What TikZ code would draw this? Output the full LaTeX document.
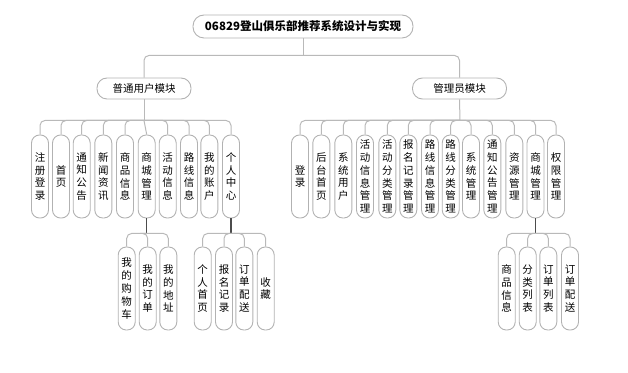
\documentclass[tikz,border=0pt]{standalone}
\usepackage{fontspec}
\setmainfont{Noto Sans CJK SC}
\usetikzlibrary{positioning,calc}

\begin{document}
\begin{tikzpicture}[x=1pt, y=1pt,
  topbox/.style={draw=gray!60, line width=0.9pt, rounded corners=11pt, minimum width=220pt, minimum height=23pt, inner sep=0pt, font={\fontsize{11.5}{14}\selectfont\bfseries}},
  modbox/.style={draw=gray!60, line width=0.9pt, rounded corners=10pt, minimum width=94pt, minimum height=21pt, inner sep=0pt, font={\fontsize{10.5}{13}\selectfont}},
  leaf/.style={draw=gray!60, line width=0.9pt, rounded corners=8pt, minimum width=17pt, minimum height=83pt, inner sep=0pt, align=center, font={\fontsize{10.5}{12.8}\selectfont}},
  link/.style={draw=gray!55, line width=1pt, rounded corners=5pt},
  sublink/.style={draw=black!70, line width=1.3pt}
]
\useasboundingbox (0,0) rectangle (628,372);

% top levels
\node[topbox] (root) at (303,345.5) {06829登山俱乐部推荐系统设计与实现};
\node[modbox] (user) at (144,283.5) {普通用户模块};
\node[modbox] (admin) at (459.5,283.5) {管理员模块};

% user leaves
\node[leaf] (u1) at (40,195.5) {注\\册\\登\\录};
\node[leaf] (u2) at (61,195.5) {首\\页};
\node[leaf] (u3) at (81.7,195.5) {通\\知\\公\\告};
\node[leaf] (u4) at (103.3,195.5) {新\\闻\\资\\讯};
\node[leaf] (u5) at (125,195.5) {商\\品\\信\\息};
\node[leaf] (u6) at (146.7,195.5) {商\\城\\管\\理};
\node[leaf] (u7) at (167.7,195.5) {活\\动\\信\\息};
\node[leaf] (u8) at (189,195.5) {路\\线\\信\\息};
\node[leaf] (u9) at (209.3,195.5) {我\\的\\账\\户};
\node[leaf] (u10) at (231,195.5) {个\\人\\中\\心};

% admin leaves
\node[leaf] (a1) at (300,195.5) {登\\录};
\node[leaf] (a2) at (321.3,195.5) {后\\台\\首\\页};
\node[leaf] (a3) at (343.3,195.5) {系\\统\\用\\户};
\node[leaf] (a4) at (365,195.5) {活\\动\\信\\息\\管\\理};
\node[leaf] (a5) at (387.3,195.5) {活\\动\\分\\类\\管\\理};
\node[leaf] (a6) at (408.3,195.5) {报\\名\\记\\录\\管\\理};
\node[leaf] (a7) at (430,195.5) {路\\线\\信\\息\\管\\理};
\node[leaf] (a8) at (450.7,195.5) {路\\线\\分\\类\\管\\理};
\node[leaf] (a9) at (471,195.5) {系\\统\\管\\理};
\node[leaf] (a10) at (492.3,195.5) {通\\知\\公\\告\\管\\理};
\node[leaf] (a11) at (514.3,195.5) {资\\源\\管\\理};
\node[leaf] (a12) at (535.5,195.5) {商\\城\\管\\理};
\node[leaf] (a13) at (556,195.5) {权\\限\\管\\理};

% third level
\node[leaf] (s1) at (126.7,83.5) {我\\的\\购\\物\\车};
\node[leaf] (s2) at (147.7,83.5) {我\\的\\订\\单};
\node[leaf] (s3) at (168.3,83.5) {我\\的\\地\\址};
\node[leaf] (p1) at (202.7,83.5) {个\\人\\首\\页};
\node[leaf] (p2) at (224,83.5) {报\\名\\记\\录};
\node[leaf] (p3) at (244.3,83.5) {订\\单\\配\\送};
\node[leaf] (p4) at (265.7,83.5) {收\\藏};
\node[leaf] (m1) at (506.7,83.5) {商\\品\\信\\息};
\node[leaf] (m2) at (527.7,83.5) {分\\类\\列\\表};
\node[leaf] (m3) at (548.3,83.5) {订\\单\\列\\表};
\node[leaf] (m4) at (570,83.5) {订\\单\\配\\送};

% bus points
\coordinate (rootbus) at ($(root.south)+(0,-17)$);
\coordinate (userbus) at ($(user.south)+(0,-21)$);
\coordinate (adminbus) at ($(admin.south)+(0.5,-21)$);
\coordinate (u6bus) at ($(u6.south)+(0,-15)$);
\coordinate (u10bus) at ($(u10.south)+(3,-15)$);
\coordinate (a12bus) at ($(a12.south)+(0,-15)$);

% connectors
\draw[link] (root.south) -- (rootbus);
\draw[link] (rootbus) -| (user.north);
\draw[link] (rootbus) -| (admin.north);

\draw[link] (user.south) -- (userbus);
\draw[link] (userbus) -| (u1.north);
\draw[link] (userbus) -| (u2.north);
\draw[link] (userbus) -| (u3.north);
\draw[link] (userbus) -| (u4.north);
\draw[link] (userbus) -| (u5.north);
\draw[link] (userbus) -- (u6.north);
\draw[link] (userbus) -| (u7.north);
\draw[link] (userbus) -| (u8.north);
\draw[link] (userbus) -| (u9.north);
\draw[link] (userbus) -| (u10.north);

\draw[link] (admin.south) -- (adminbus);
\draw[link] (adminbus) -| (a1.north);
\draw[link] (adminbus) -| (a2.north);
\draw[link] (adminbus) -| (a3.north);
\draw[link] (adminbus) -| (a4.north);
\draw[link] (adminbus) -| (a5.north);
\draw[link] (adminbus) -| (a6.north);
\draw[link] (adminbus) -| (a7.north);
\draw[link] (adminbus) -| (a8.north);
\draw[link] (adminbus) -| (a9.north);
\draw[link] (adminbus) -| (a10.north);
\draw[link] (adminbus) -| (a11.north);
\draw[link] (adminbus) -| (a12.north);
\draw[link] (adminbus) -| (a13.north);

\draw[sublink] (u6.south) -- (u6bus);
\draw[link] (u6bus) -| (s1.north);
\draw[link] (u6bus) -| (s2.north);
\draw[link] (u6bus) -| (s3.north);

\draw[sublink] (u10.south) -- (u10bus -| u10.south);
\draw[link] (u10bus) -| (p1.north);
\draw[link] (u10bus) -| (p2.north);
\draw[link] (u10bus) -| (p3.north);
\draw[link] (u10bus) -| (p4.north);

\draw[sublink] (a12.south) -- (a12bus);
\draw[link] (a12bus) -| (m1.north);
\draw[link] (a12bus) -| (m2.north);
\draw[link] (a12bus) -| (m3.north);
\draw[link] (a12bus) -| (m4.north);
\end{tikzpicture}
\end{document}
